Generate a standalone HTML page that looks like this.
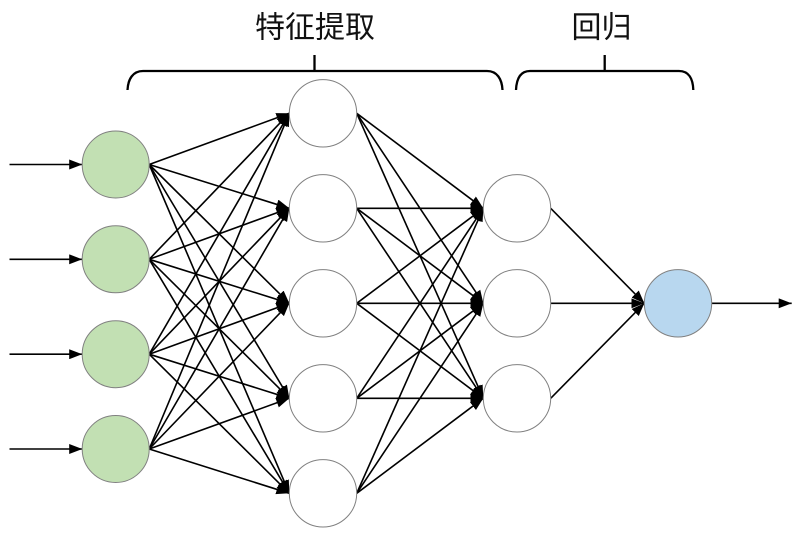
<!DOCTYPE html>
<html>
<head>
<meta charset="utf-8">
<style>
  html, body { margin:0; padding:0; background:#ffffff; }
  body { width:795px; height:539px; overflow:hidden; }
  svg { display:block; }
  text { font-family: "Liberation Sans", "Noto Sans CJK SC", sans-serif; font-size:30px; fill:#111; }
</style>
</head>
<body>
<svg width="795" height="539" viewBox="0 0 795 539" xmlns="http://www.w3.org/2000/svg">
  <defs>
    <marker id="ah" markerUnits="userSpaceOnUse" markerWidth="13" markerHeight="10" refX="13" refY="5" orient="auto">
      <path d="M0,0 L13,5 L0,10 Z" fill="#000"/>
    </marker>
  </defs>

  <!-- labels -->
  <text x="315" y="37.5" text-anchor="middle">特征提取</text>
  <text x="601.5" y="37.5" text-anchor="middle">回归</text>

  <!-- braces -->
  <g fill="none" stroke="#000" stroke-width="2.3">
    <path d="M127.5,90 C128,79 133,71 143,71 L487,71 C497,71 502,79 502.5,90"/>
    <line x1="314.5" y1="55" x2="314.5" y2="71"/>
    <path d="M516,90 C516.5,79 520,71 530,71 L679,71 C689,71 693,79 693.3,90"/>
    <line x1="604.7" y1="55" x2="604.7" y2="71"/>
  </g>

  <!-- connectors -->
  <g stroke="#000" stroke-width="1.6" fill="none" marker-end="url(#ah)">
    <!-- inputs -->
    <line x1="9.5" y1="164.5" x2="82.2" y2="164.5"/>
    <line x1="9.5" y1="259.3" x2="82.2" y2="259.3"/>
    <line x1="9.5" y1="354.2" x2="82.2" y2="354.2"/>
    <line x1="9.5" y1="449" x2="82.2" y2="449"/>

    <!-- green -> hidden1 -->
    <line x1="149.2" y1="164.5" x2="289.3" y2="113.3"/>
    <line x1="149.2" y1="164.5" x2="289.3" y2="208.3"/>
    <line x1="149.2" y1="164.5" x2="289.3" y2="303.3"/>
    <line x1="149.2" y1="164.5" x2="289.3" y2="398.3"/>
    <line x1="149.2" y1="164.5" x2="289.3" y2="493.3"/>

    <line x1="149.2" y1="259.3" x2="289.3" y2="113.3"/>
    <line x1="149.2" y1="259.3" x2="289.3" y2="208.3"/>
    <line x1="149.2" y1="259.3" x2="289.3" y2="303.3"/>
    <line x1="149.2" y1="259.3" x2="289.3" y2="398.3"/>
    <line x1="149.2" y1="259.3" x2="289.3" y2="493.3"/>

    <line x1="149.2" y1="354.2" x2="289.3" y2="113.3"/>
    <line x1="149.2" y1="354.2" x2="289.3" y2="208.3"/>
    <line x1="149.2" y1="354.2" x2="289.3" y2="303.3"/>
    <line x1="149.2" y1="354.2" x2="289.3" y2="398.3"/>
    <line x1="149.2" y1="354.2" x2="289.3" y2="493.3"/>

    <line x1="149.2" y1="449" x2="289.3" y2="113.3"/>
    <line x1="149.2" y1="449" x2="289.3" y2="208.3"/>
    <line x1="149.2" y1="449" x2="289.3" y2="303.3"/>
    <line x1="149.2" y1="449" x2="289.3" y2="398.3"/>
    <line x1="149.2" y1="449" x2="289.3" y2="493.3"/>

    <!-- hidden1 -> hidden2 -->
    <line x1="356.7" y1="113.3" x2="483.3" y2="208.3"/>
    <line x1="356.7" y1="113.3" x2="483.3" y2="303.3"/>
    <line x1="356.7" y1="113.3" x2="483.3" y2="398.3"/>
    <line x1="356.7" y1="208.3" x2="483.3" y2="208.3"/>
    <line x1="356.7" y1="208.3" x2="483.3" y2="303.3"/>
    <line x1="356.7" y1="208.3" x2="483.3" y2="398.3"/>
    <line x1="356.7" y1="303.3" x2="483.3" y2="208.3"/>
    <line x1="356.7" y1="303.3" x2="483.3" y2="303.3"/>
    <line x1="356.7" y1="303.3" x2="483.3" y2="398.3"/>
    <line x1="356.7" y1="398.3" x2="483.3" y2="208.3"/>
    <line x1="356.7" y1="398.3" x2="483.3" y2="303.3"/>
    <line x1="356.7" y1="398.3" x2="483.3" y2="398.3"/>
    <line x1="356.7" y1="493.3" x2="483.3" y2="208.3"/>
    <line x1="356.7" y1="493.3" x2="483.3" y2="303.3"/>
    <line x1="356.7" y1="493.3" x2="483.3" y2="398.3"/>

    <!-- hidden2 -> output -->
    <line x1="550.7" y1="208.3" x2="644.3" y2="303.3"/>
    <line x1="550.7" y1="303.3" x2="644.3" y2="303.3"/>
    <line x1="550.7" y1="398.3" x2="644.3" y2="303.3"/>

    <!-- output -->
    <line x1="711.7" y1="303.3" x2="791.7" y2="303.3"/>
  </g>

  <!-- nodes -->
  <g stroke="#808080" stroke-width="1">
    <circle cx="115.7" cy="164.5" r="33.5" fill="#c2e0b3"/>
    <circle cx="115.7" cy="259.3" r="33.5" fill="#c2e0b3"/>
    <circle cx="115.7" cy="354.2" r="33.5" fill="#c2e0b3"/>
    <circle cx="115.7" cy="449" r="33.5" fill="#c2e0b3"/>

    <circle cx="323" cy="113.3" r="33.7" fill="#ffffff"/>
    <circle cx="323" cy="208.3" r="33.7" fill="#ffffff"/>
    <circle cx="323" cy="303.3" r="33.7" fill="#ffffff"/>
    <circle cx="323" cy="398.3" r="33.7" fill="#ffffff"/>
    <circle cx="323" cy="493.3" r="33.7" fill="#ffffff"/>

    <circle cx="517" cy="208.3" r="33.7" fill="#ffffff"/>
    <circle cx="517" cy="303.3" r="33.7" fill="#ffffff"/>
    <circle cx="517" cy="398.3" r="33.7" fill="#ffffff"/>

    <circle cx="678" cy="303.3" r="33.7" fill="#b8d7ef"/>
  </g>
</svg>
</body>
</html>
